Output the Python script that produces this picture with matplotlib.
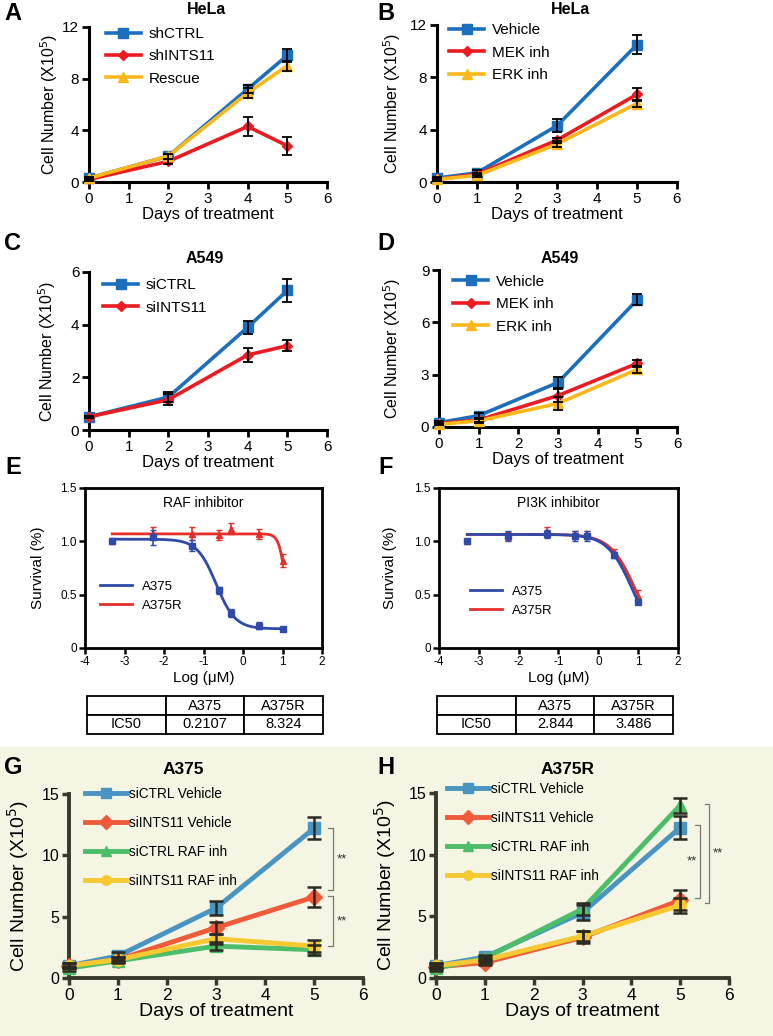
import matplotlib
matplotlib.use("Agg")
import matplotlib.pyplot as plt
import numpy as np
from matplotlib.patches import Rectangle

plt.rcParams['font.family'] = ['Liberation Sans', 'DejaVu Sans']
plt.rcParams['axes.unicode_minus'] = False

W, H = 773, 1036

# ---- growth curves (cell number x10^5) ----
days_a = [0, 2, 4, 5]
hela_shctrl = [0.3, 2.0, 7.2, 9.8]
hela_shctrl_err = [0.1, 0.2, 0.3, 0.5]
hela_shints11 = [0.2, 1.6, 4.3, 2.8]
hela_shints11_err = [0.1, 0.2, 0.7, 0.7]
hela_rescue = [0.3, 2.0, 6.9, 9.0]
hela_rescue_err = [0.1, 0.2, 0.4, 0.4]

days_b = [0, 1, 3, 5]
hela_vehicle = [0.3, 0.7, 4.3, 10.5]
hela_vehicle_err = [0.1, 0.2, 0.5, 0.7]
hela_mek = [0.2, 0.6, 3.2, 6.7]
hela_mek_err = [0.1, 0.1, 0.2, 0.5]
hela_erk = [0.2, 0.5, 2.9, 6.0]
hela_erk_err = [0.1, 0.1, 0.2, 0.3]

days_c = [0, 2, 4, 5]
a549_sictrl = [0.5, 1.25, 3.9, 5.3]
a549_sictrl_err = [0.05, 0.2, 0.25, 0.45]
a549_siints11 = [0.5, 1.15, 2.85, 3.2]
a549_siints11_err = [0.05, 0.2, 0.25, 0.2]

days_d = [0, 1, 3, 5]
a549_vehicle = [0.25, 0.65, 2.55, 7.3]
a549_vehicle_err = [0.1, 0.15, 0.3, 0.3]
a549_mek = [0.2, 0.4, 1.8, 3.65]
a549_mek_err = [0.05, 0.1, 0.35, 0.2]
a549_erk = [0.15, 0.35, 1.35, 3.3]
a549_erk_err = [0.05, 0.1, 0.35, 0.2]

# ---- dose response (survival) ----
raf_logdose = [-3.31, -2.29, -1.30, -0.60, -0.30, 0.40, 1.00]
raf_a375 = [1.00, 1.04, 0.96, 0.54, 0.33, 0.21, 0.18]
raf_a375_err = [0.0, 0.07, 0.05, 0.03, 0.04, 0.03, 0.02]
raf_a375r = [1.00, 1.07, 1.07, 1.06, 1.12, 1.07, 0.82]
raf_a375r_err = [0.0, 0.06, 0.06, 0.05, 0.05, 0.05, 0.06]
pi3k_logdose = [-3.29, -2.28, -1.30, -0.59, -0.29, 0.40, 0.99]
pi3k_a375 = [1.00, 1.05, 1.07, 1.05, 1.05, 0.87, 0.43]
pi3k_a375_err = [0.0, 0.05, 0.04, 0.05, 0.05, 0.03, 0.02]
pi3k_a375r = [1.00, 1.05, 1.09, 1.06, 1.06, 0.90, 0.49]
pi3k_a375r_err = [0.0, 0.04, 0.04, 0.04, 0.04, 0.03, 0.05]
# fitted 4PL parameters: top, bottom, logIC50, hill
raf_a375_fit = [1.02, 0.18, -0.68, 1.8]
raf_a375r_fit = [1.07, 0.0, 1.1, 5.0]
pi3k_a375_fit = [1.065, 0.0, 0.876, 1.365]
pi3k_a375r_fit = [1.065, 0.0, 0.949, 1.343]
raf_ic50 = ['0.2107', '8.324']
pi3k_ic50 = ['2.844', '3.486']

# ---- A375 / A375R growth ----
days_g = [0, 1, 3, 5]
g_sictrl_veh = [1.0, 1.8, 5.7, 12.2]
g_sictrl_veh_err = [0.2, 0.3, 0.6, 0.9]
g_siints_veh = [1.0, 1.5, 4.1, 6.6]
g_siints_veh_err = [0.2, 0.2, 0.5, 0.8]
g_sictrl_raf = [0.8, 1.4, 2.6, 2.3]
g_sictrl_raf_err = [0.2, 0.2, 0.3, 0.4]
g_siints_raf = [1.0, 1.5, 3.2, 2.6]
g_siints_raf_err = [0.2, 0.2, 0.4, 0.5]
g_brackets = [(12.2, 7.2), (6.7, 2.6)]

h_sictrl_veh = [1.0, 1.7, 5.3, 12.2]
h_sictrl_veh_err = [0.2, 0.2, 0.6, 0.9]
h_siints_veh = [0.9, 1.25, 3.3, 6.3]
h_siints_veh_err = [0.2, 0.2, 0.5, 0.8]
h_sictrl_raf = [0.8, 1.6, 5.6, 14.0]
h_sictrl_raf_err = [0.2, 0.2, 0.5, 0.6]
h_siints_raf = [1.0, 1.45, 3.4, 5.9]
h_siints_raf_err = [0.2, 0.2, 0.4, 0.6]
h_brackets = [(12.4, 6.5), (14.1, 6.1)]

BLUE, RED, GOLD = '#1b6fbd', '#ea1c22', '#fbb81c'
DBLUE, DRED = '#2f4aa8', '#e62f2a'
G_COLORS = ['#4a94c2', '#ee5a3a', '#4cbd68', '#f6c832']
OLIVE = '#3a3a2a'

fig = plt.figure(figsize=(W / 100, H / 100), dpi=100)
fig.patches.append(Rectangle((0, 0), 1, (H - 747) / H, transform=fig.transFigure,
                             color='#f4f6e3', zorder=-1))


def px_axes(l, t, r, b):
    return fig.add_axes([l / W, 1 - b / H, (r - l) / W, (b - t) / H])


def ftext(x, y, s, **kw):
    fig.text(x / W, 1 - y / H, s, ha='center', va='center', **kw)


def growth(ax, days, series, errs, colors, markers, labels, ymax, ystep, leg_xy):
    for y, c, m, lab in zip(series, colors, markers, labels):
        ms = 5.5 if m == 'D' else 7
        ax.plot(days, y, color=c, lw=2.6, marker=m, ms=ms, label=lab, clip_on=False, zorder=3)
    for y, e in zip(series, errs):
        ax.errorbar(days, y, yerr=e, fmt='none', ecolor='black', elinewidth=1.3,
                    capsize=3.5, capthick=1.3, clip_on=False, zorder=4)
    ax.set_xlim(0, 6)
    ax.set_ylim(0, ymax)
    ax.set_xticks(range(7))
    ax.set_yticks(np.arange(0, ymax + 0.1, ystep))
    for s in ['top', 'right']:
        ax.spines[s].set_visible(False)
    for s in ['left', 'bottom']:
        ax.spines[s].set_linewidth(2.2)
    ax.tick_params(direction='out', length=5, width=2, labelsize=11, pad=2)
    ax.set_xlabel('Days of treatment', fontsize=12, labelpad=1)
    ax.set_ylabel('Cell Number (X10$^5$)', fontsize=11.5)
    ax.legend(loc='upper left', bbox_to_anchor=leg_xy, frameon=False, fontsize=11,
              handlelength=2.3, handletextpad=0.5, labelspacing=0.55,
              borderpad=0, borderaxespad=0)


# A
axA = px_axes(89, 27, 327, 182)
growth(axA, days_a, [hela_shctrl, hela_shints11, hela_rescue],
       [hela_shctrl_err, hela_shints11_err, hela_rescue_err],
       [BLUE, RED, GOLD], ['s', 'D', '^'], ['shCTRL', 'shINTS11', 'Rescue'], 12, 4, (0.07, 1.0))
axA.yaxis.set_label_coords(-0.12, 0.5)
# B
axB = px_axes(437, 25, 677, 182)
growth(axB, days_b, [hela_vehicle, hela_mek, hela_erk],
       [hela_vehicle_err, hela_mek_err, hela_erk_err],
       [BLUE, RED, GOLD], ['s', 'D', '^'], ['Vehicle', 'MEK inh', 'ERK inh'], 12, 4, (0.05, 1.01))
axB.yaxis.set_label_coords(-0.14, 0.5)
# C
axC = px_axes(89, 272, 327, 430)
growth(axC, days_c, [a549_sictrl, a549_siints11],
       [a549_sictrl_err, a549_siints11_err],
       [BLUE, RED], ['s', 'D'], ['siCTRL', 'siINTS11'], 6, 2, (0.06, 0.96))
axC.yaxis.set_label_coords(-0.13, 0.5)
# D
axD = px_axes(439, 270, 677, 427)
growth(axD, days_d, [a549_vehicle, a549_mek, a549_erk],
       [a549_vehicle_err, a549_mek_err, a549_erk_err],
       [BLUE, RED, GOLD], ['s', 'D', '^'], ['Vehicle', 'MEK inh', 'ERK inh'], 9, 3, (0.06, 0.97))
axD.yaxis.set_label_coords(-0.15, 0.5)


def hill(x, p):
    top, bottom, c, h = p
    return bottom + (top - bottom) / (1 + 10 ** ((x - c) * h))


def dose(ax, x, a, a_err, r, r_err, a_fit, r_fit, title, leg_xy):
    xs = np.linspace(min(x), max(x), 200)
    ax.plot(xs, hill(xs, r_fit), color=DRED, lw=2, zorder=2)
    ax.plot(xs, hill(xs, a_fit), color=DBLUE, lw=2, zorder=3)
    ax.errorbar(x, r, yerr=r_err, fmt='^', color=DRED, ms=4, capsize=2.5, elinewidth=1.2, zorder=2)
    ax.errorbar(x, a, yerr=a_err, fmt='s', color=DBLUE, ms=5, capsize=2.5, elinewidth=1.2, zorder=3)
    h1, = ax.plot([], [], color=DBLUE, lw=2)
    h2, = ax.plot([], [], color=DRED, lw=2)
    ax.legend([h1, h2], ['A375', 'A375R'], loc='upper left', bbox_to_anchor=leg_xy, frameon=False,
              fontsize=9.5, handlelength=2.4, handletextpad=0.8, labelspacing=0.5,
              borderpad=0, borderaxespad=0)
    ax.set_xlim(-4, 2)
    ax.set_ylim(0, 1.5)
    ax.set_xticks(range(-4, 3))
    ax.set_yticks([0, 0.5, 1.0, 1.5])
    ax.set_yticklabels(['0', '0.5', '1.0', '1.5'])
    for s in ax.spines.values():
        s.set_linewidth(2)
    ax.tick_params(direction='out', length=4, width=1.8, labelsize=8.5, pad=2)
    ax.text(0.5, 0.905, title, transform=ax.transAxes, ha='center', va='center', fontsize=10)
    ax.set_xlabel('Log (\u03bcM)', fontsize=11, labelpad=2)
    ax.set_ylabel('Survival (%)', fontsize=11)


axE = px_axes(85, 488, 322, 648)
dose(axE, raf_logdose, raf_a375, raf_a375_err, raf_a375r, raf_a375r_err,
     raf_a375_fit, raf_a375r_fit, 'RAF inhibitor', (0.063, 0.42))
axE.yaxis.set_label_coords(-0.17, 0.5)
axF = px_axes(439, 488, 678, 648)
dose(axF, pi3k_logdose, pi3k_a375, pi3k_a375_err, pi3k_a375r, pi3k_a375r_err,
     pi3k_a375_fit, pi3k_a375r_fit, 'PI3K inhibitor', (0.13, 0.39))
axF.yaxis.set_label_coords(-0.175, 0.5)


def ic50_table(l, ic50):
    tax = px_axes(l, 696, l + 236, 734)
    tax.axis('off')
    tb = tax.table(cellText=[['', 'A375', 'A375R'], ['IC50'] + ic50],
                   cellLoc='center', bbox=[0, 0, 1, 1])
    tb.auto_set_font_size(False)
    for cell in tb.get_celld().values():
        cell.set_linewidth(1.3)
        cell.set_text_props(fontsize=10.5)


ic50_table(87, raf_ic50)
ic50_table(437, pi3k_ic50)

G_LABELS = ['siCTRL Vehicle', 'siINTS11 Vehicle', 'siCTRL RAF inh', 'siINTS11 RAF inh']
G_MARKERS = ['s', 'D', '^', 'o']


def growth2(ax, series, errs, brackets, leg_xy):
    for y, c, m, lab in zip(series, G_COLORS, G_MARKERS, G_LABELS):
        ax.plot(days_g, y, color=c, lw=3.5, marker=m, ms=8.5, label=lab, clip_on=False, zorder=3)
    for y, e in zip(series, errs):
        ax.errorbar(days_g, y, yerr=e, fmt='none', ecolor='#2a2a22', elinewidth=1.8,
                    capsize=5, capthick=1.8, clip_on=False, zorder=4)
    ax.set_xlim(0, 6)
    ax.set_ylim(0, 15)
    ax.set_xticks(range(7))
    ax.set_yticks([0, 5, 10, 15])
    ax.patch.set_visible(False)
    for s in ['top', 'right']:
        ax.spines[s].set_visible(False)
    for s in ['left', 'bottom']:
        ax.spines[s].set_linewidth(2.8)
        ax.spines[s].set_color(OLIVE)
    ax.tick_params(direction='out', length=5, width=2.5, color=OLIVE, pad=2)
    ax.tick_params(axis='x', labelsize=12.5)
    ax.tick_params(axis='y', labelsize=11.5)
    ax.set_xlabel('Days of treatment', fontsize=14, labelpad=0)
    ax.set_ylabel('Cell Number (X10$^5$)', fontsize=14)
    ax.legend(loc='upper left', bbox_to_anchor=leg_xy, frameon=False, fontsize=9.8,
              handlelength=3.1, handletextpad=0.15, labelspacing=1.1, markerscale=0.8,
              borderpad=0, borderaxespad=0)
    for (xb, xt, xs, ha), (y1, y2) in brackets:
        ax.plot([xt, xb, xb, xt], [y1, y1, y2, y2], color='#777777', lw=0.9,
                clip_on=False, zorder=2)
        ax.text(xs, (y1 + y2) / 2, '**', fontsize=9.5, ha=ha, va='center', color='#333333')


axG = px_axes(69, 794, 363, 978)
growth2(axG, [g_sictrl_veh, g_siints_veh, g_sictrl_raf, g_siints_raf],
        [g_sictrl_veh_err, g_siints_veh_err, g_sictrl_raf_err, g_siints_raf_err],
        [((5.39, 5.28, 5.47, 'left'), g_brackets[0]), ((5.39, 5.28, 5.47, 'left'), g_brackets[1])],
        (0.054, 1.04))
axG.yaxis.set_label_coords(-0.13, 0.5)
axH = px_axes(436, 793, 729, 978)
growth2(axH, [h_sictrl_veh, h_siints_veh, h_sictrl_raf, h_siints_raf],
        [h_sictrl_veh_err, h_siints_veh_err, h_sictrl_raf_err, h_siints_raf_err],
        [((5.4, 5.3, 5.35, 'right'), h_brackets[0]), ((5.6, 5.5, 5.66, 'left'), h_brackets[1])],
        (0.038, 1.06))
axH.yaxis.set_label_coords(-0.13, 0.5)

# titles and panel letters
for x, y, s in [(207, 10, 'HeLa'), (570, 10, 'HeLa'), (205, 258, 'A549'), (560, 258, 'A549')]:
    ftext(x, y, s, fontsize=11.5, fontweight='bold')
for x, y, s in [(183, 770, 'A375'), (568, 770, 'A375R')]:
    ftext(x, y, s, fontsize=12.5, fontweight='bold')
for x, y, s in [(13, 14, 'A'), (386, 14, 'B'), (13, 243, 'C'), (386, 243, 'D'),
                (13, 468, 'E'), (386, 468, 'F'), (13, 768, 'G'), (386, 768, 'H')]:
    ftext(x, y, s, fontsize=17, fontweight='bold')

fig.savefig('out.png', dpi=100)
